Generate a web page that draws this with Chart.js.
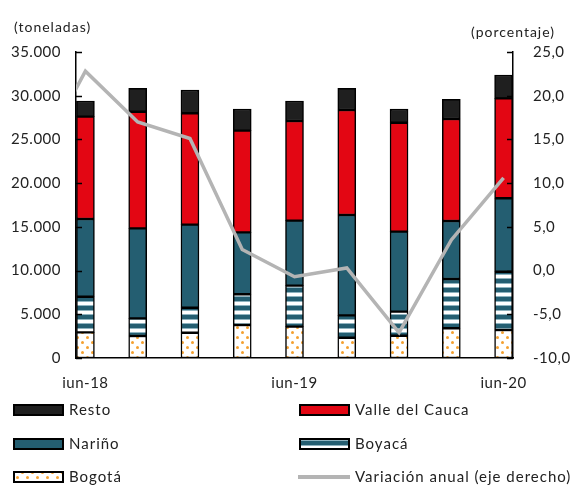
<!DOCTYPE html>
<html>
<head>
<meta charset="utf-8">
<script src="https://cdn.jsdelivr.net/npm/chart.js@4.4.1/dist/chart.umd.min.js"></script>
<style>
  body { margin: 0; background: #fff; }
  #wrap { width: 574px; height: 487px; }
</style>
</head>
<body>
<div id="wrap"><canvas id="myChart" width="574" height="487"></canvas></div>
<script>
// trimestres
const quarters = ['jun-18', 'sep-18', 'dic-18', 'mar-19', 'jun-19', 'sep-19', 'dic-19', 'mar-20', 'jun-20'];
const tickQuarters = [0, 4, 8];

// toneladas
const bogota = [2940, 2520, 2890, 3770, 3580, 2320, 2550, 3400, 3200];
const boyaca = [4070, 2020, 2860, 3520, 4690, 2560, 2750, 5640, 6670];
const narino = [8890, 10290, 9500, 7080, 7440, 11480, 9150, 6630, 8400];
const valle = [11700, 13340, 12740, 11630, 11400, 12010, 12460, 11670, 11430];
const resto = [1800, 2680, 2660, 2480, 2290, 2480, 1570, 2250, 2670];

// variacion anual (%), eje derecho; the first value is mar-18, cut off at the left edge
const variacionPrev = 11.7;
const variacion = [22.8, 17.0, 15.1, 2.4, -0.7, 0.3, -7.1, 3.5, 10.6];

const fontFam = 'Lato, "Open Sans", sans-serif';
const textCol = '#222';

function stripes() {
  const c = document.createElement('canvas');
  c.width = 8; c.height = 9;
  const g = c.getContext('2d');
  g.fillStyle = '#fff'; g.fillRect(0, 0, 8, 9);
  g.fillStyle = '#245e71'; g.fillRect(0, 0, 8, 4);
  g.fillStyle = '#8fb3bf'; g.fillRect(0, 4, 8, 1); g.fillRect(0, 8, 8, 1);
  return g.createPattern(c, 'repeat');
}

function dots() {
  const c = document.createElement('canvas');
  c.width = 10; c.height = 10;
  const g = c.getContext('2d');
  g.fillStyle = '#fff'; g.fillRect(0, 0, 10, 10);
  g.fillStyle = '#f4a030';
  g.beginPath(); g.arc(2.5, 2.5, 1.5, 0, Math.PI * 2); g.fill();
  g.beginPath(); g.arc(7.5, 7.5, 1.5, 0, Math.PI * 2); g.fill();
  return g.createPattern(c, 'repeat');
}

const pStripes = stripes();
const pDots = dots();

const toXY = arr => arr.map((v, i) => ({x: i, y: v}));

const barBase = {
  type: 'bar',
  yAxisID: 'y',
  stack: 'a',
  borderColor: '#000',
  borderWidth: 1.5,
  borderSkipped: false,
  barThickness: 18,
  order: 1
};

// a bit of letter spacing for the tick labels, like the original font
const spacing = {
  id: 'spacing',
  beforeDraw(chart) { chart.ctx.letterSpacing = '0.5px'; }
};

// inward ticks, axis titles and the two-column legend
const extras = {
  id: 'extras',
  afterDraw(chart) {
    const ctx = chart.ctx;
    const a = chart.chartArea;
    const y = chart.scales.y, y2 = chart.scales.y2;
    ctx.save();
    ctx.strokeStyle = '#000';
    ctx.lineWidth = 1.5;
    y.ticks.forEach(t => {
      const py = Math.round(y.getPixelForValue(t.value)) + 0.5;
      ctx.beginPath(); ctx.moveTo(a.left, py); ctx.lineTo(a.left + 6, py); ctx.stroke();
    });
    y2.ticks.forEach(t => {
      const py = Math.round(y2.getPixelForValue(t.value)) + 0.5;
      ctx.beginPath(); ctx.moveTo(a.right - 6, py); ctx.lineTo(a.right, py); ctx.stroke();
    });

    ctx.letterSpacing = '1px';
    ctx.fillStyle = textCol;
    ctx.font = '14px ' + fontFam;
    ctx.textBaseline = 'middle';
    ctx.textAlign = 'left';
    ctx.fillText('(toneladas)', 14, 27);
    ctx.fillText('(porcentaje)', 471, 32);

    const items = [
      {label: 'Resto', fill: '#1f1f1f', x: 14, y: 410},
      {label: 'Valle del Cauca', fill: '#e30613', x: 300, y: 410},
      {label: 'Nariño', fill: '#245e71', x: 14, y: 444},
      {label: 'Boyacá', fill: pStripes, x: 300, y: 444},
      {label: 'Bogotá', fill: pDots, x: 14, y: 477},
      {label: 'Variación anual (eje derecho)', line: true, x: 300, y: 477}
    ];
    ctx.font = '15px ' + fontFam;
    items.forEach(it => {
      if (it.line) {
        ctx.strokeStyle = '#b4b4b4';
        ctx.lineWidth = 4;
        ctx.beginPath(); ctx.moveTo(it.x - 2, it.y); ctx.lineTo(it.x + 50, it.y); ctx.stroke();
      } else {
        ctx.fillStyle = it.fill;
        ctx.fillRect(it.x, it.y - 5, 49, 10);
        ctx.strokeStyle = '#000';
        ctx.lineWidth = 2;
        ctx.strokeRect(it.x, it.y - 5, 49, 10);
      }
      ctx.fillStyle = textCol;
      ctx.fillText(it.label, it.x + 55, it.y);
    });
    ctx.restore();
  }
};

const ctx = document.getElementById('myChart').getContext('2d');

const myChart = new Chart(ctx, {
  data: {
    datasets: [
      {...barBase, label: 'Bogotá', data: toXY(bogota), backgroundColor: pDots},
      {...barBase, label: 'Boyacá', data: toXY(boyaca), backgroundColor: pStripes},
      {...barBase, label: 'Nariño', data: toXY(narino), backgroundColor: '#245e71'},
      {...barBase, label: 'Valle del Cauca', data: toXY(valle), backgroundColor: '#e30613'},
      {...barBase, label: 'Resto', data: toXY(resto), backgroundColor: '#1f1f1f'},
      {
        type: 'line',
        label: 'Variación anual (eje derecho)',
        yAxisID: 'y2',
        data: [{x: -1, y: variacionPrev}].concat(toXY(variacion)),
        borderColor: '#b4b4b4',
        borderWidth: 3.5,
        pointRadius: 0,
        tension: 0,
        clip: 0,
        order: 0
      }
    ]
  },
  options: {
    responsive: false,
    animation: false,
    layout: { padding: { top: 52, bottom: 99, left: 0, right: 0 } },
    plugins: { legend: { display: false }, tooltip: { enabled: false } },
    scales: {
      x: {
        type: 'linear',
        offset: false,
        min: -0.18,
        max: 8.18,
        grid: { display: false, offset: false, drawTicks: false },
        border: { display: true, color: '#000', width: 1.5 },
        afterBuildTicks: s => { s.ticks = tickQuarters.map(v => ({value: v})); },
        afterFit: s => { s.height = 30; },
        ticks: {
          autoSkip: false,
          maxRotation: 0,
          padding: 16,
          color: textCol,
          font: { family: fontFam, size: 15 },
          callback: v => quarters[v]
        }
      },
      y: {
        position: 'left',
        stacked: true,
        min: 0,
        max: 35000,
        grid: { display: false, drawTicks: false },
        border: { display: true, color: '#000', width: 1.5 },
        afterFit: s => { s.width = 76; },
        ticks: {
          stepSize: 5000,
          padding: 15,
          color: textCol,
          font: { family: fontFam, size: 15 },
          callback: v => v.toLocaleString('de-DE')
        }
      },
      y2: {
        position: 'right',
        min: -10,
        max: 25,
        grid: { display: false, drawTicks: false },
        border: { display: true, color: '#000', width: 1.5 },
        afterFit: s => { s.width = 61; },
        ticks: {
          stepSize: 5,
          padding: 20,
          color: textCol,
          font: { family: fontFam, size: 15 },
          callback: v => v.toFixed(1).replace('.', ',')
        }
      }
    }
  },
  plugins: [spacing, extras]
});
</script>
</body>
</html>
